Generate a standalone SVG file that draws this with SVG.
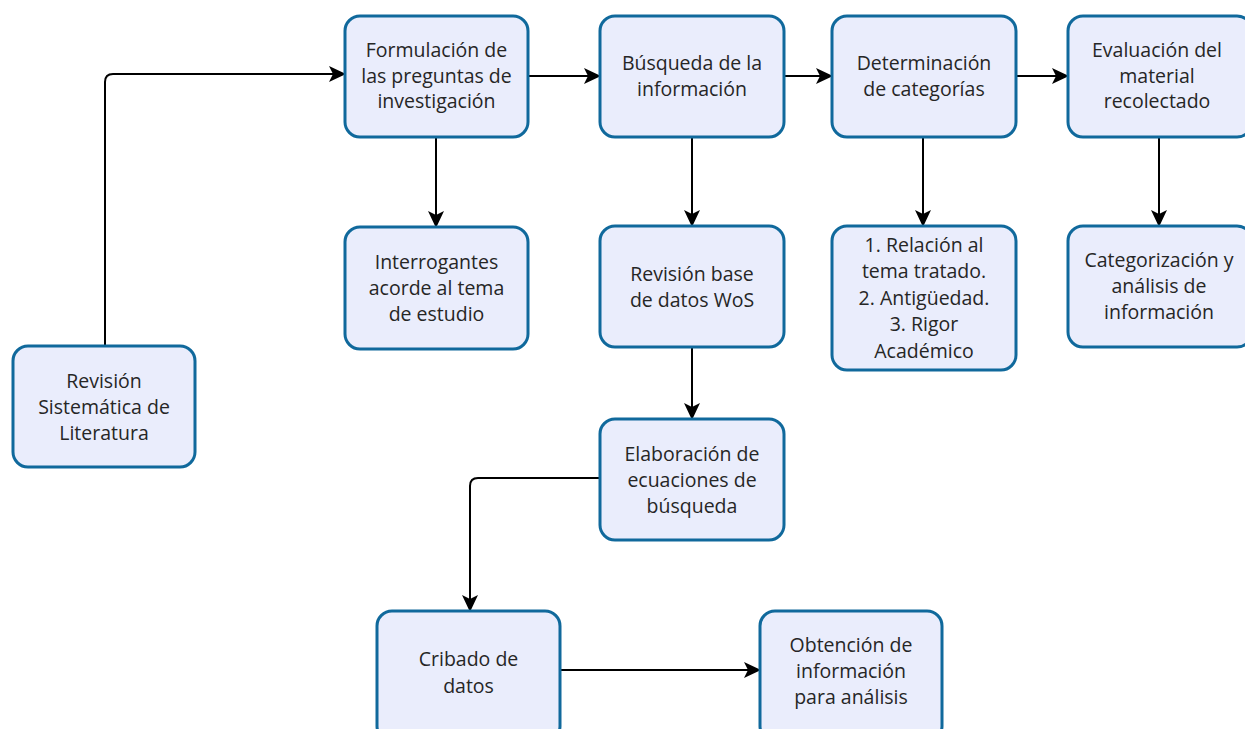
<svg xmlns="http://www.w3.org/2000/svg" width="1245" height="729" viewBox="0 0 1245 729">
<style>
.box{fill:#eaedfc;stroke:#10699c;stroke-width:3}
.t{font-family:"Open Sans","Noto Sans",sans-serif;font-size:19.5px;fill:#262626;text-anchor:middle}
.c{fill:none;stroke:#000;stroke-width:2;marker-end:url(#arr)}
</style>
<defs>
<marker id="arr" markerUnits="userSpaceOnUse" markerWidth="18" markerHeight="18" refX="16" refY="9" orient="auto">
<path d="M0,1 L17,9 L0,17 L4,9 Z" fill="#000"/>
</marker>
</defs>
<rect width="1245" height="729" fill="#fff"/>
<g id="connectors">
<path class="c" d="M105,346 L105,82 Q105,74 113,74 L345,74"/>
<path class="c" d="M528,76 L600,76"/>
<path class="c" d="M784,76 L832,76"/>
<path class="c" d="M1016,76 L1068,76"/>
<path class="c" d="M436,137 L436,227"/>
<path class="c" d="M692,137 L692,226"/>
<path class="c" d="M923,137 L923,226"/>
<path class="c" d="M1159,137 L1159,226"/>
<path class="c" d="M692,347 L692,419"/>
<path class="c" d="M600,478 L478,478 Q470,478 470,486 L470,611"/>
<path class="c" d="M560,670 L760,670"/>
</g>
<g id="n1"><rect class="box" x="345" y="16" width="183" height="121" rx="15"/>
<text class="t" x="436.5" y="57">Formulación de</text><text class="t" x="436.5" y="83">las preguntas de</text><text class="t" x="436.5" y="108">investigación</text></g>
<g id="n2"><rect class="box" x="600" y="16" width="184" height="121" rx="15"/>
<text class="t" x="692" y="70">Búsqueda de la</text><text class="t" x="692" y="96">información</text></g>
<g id="n3"><rect class="box" x="832" y="16" width="184" height="121" rx="15"/>
<text class="t" x="924" y="70">Determinación</text><text class="t" x="924" y="96">de categorías</text></g>
<g id="n4"><rect class="box" x="1068" y="16" width="184" height="121" rx="15"/>
<text class="t" x="1157" y="57">Evaluación del</text><text class="t" x="1157" y="83">material</text><text class="t" x="1157" y="108">recolectado</text></g>
<g id="n5"><rect class="box" x="345" y="227" width="183" height="122" rx="15"/>
<text class="t" x="436.5" y="269">Interrogantes</text><text class="t" x="436.5" y="295">acorde al tema</text><text class="t" x="436.5" y="321">de estudio</text></g>
<g id="n6"><rect class="box" x="600" y="226" width="184" height="121" rx="15"/>
<text class="t" x="692" y="281">Revisión base</text><text class="t" x="692" y="307">de datos WoS</text></g>
<g id="n7"><rect class="box" x="832" y="226" width="184" height="144" rx="15"/>
<text class="t" x="924" y="252">1. Relación al</text><text class="t" x="924" y="278">tema tratado.</text><text class="t" x="924" y="305">2. Antigüedad.</text><text class="t" x="924" y="331">3. Rigor</text><text class="t" x="924" y="358">Académico</text></g>
<g id="n8"><rect class="box" x="1068" y="226" width="184" height="121" rx="15"/>
<text class="t" x="1159" y="267">Categorización y</text><text class="t" x="1159" y="293">análisis de</text><text class="t" x="1159" y="319">información</text></g>
<g id="n9"><rect class="box" x="13" y="346" width="182" height="121" rx="15"/>
<text class="t" x="104" y="388">Revisión</text><text class="t" x="104" y="414">Sistemática de</text><text class="t" x="104" y="440">Literatura</text></g>
<g id="n10"><rect class="box" x="600" y="419" width="184" height="121" rx="15"/>
<text class="t" x="692" y="461">Elaboración de</text><text class="t" x="692" y="487">ecuaciones de</text><text class="t" x="692" y="513">búsqueda</text></g>
<g id="n11"><rect class="box" x="377" y="611" width="183" height="130" rx="15"/>
<text class="t" x="468.5" y="666">Cribado de</text><text class="t" x="468.5" y="693">datos</text></g>
<g id="n12"><rect class="box" x="760" y="611" width="182" height="130" rx="15"/>
<text class="t" x="851" y="652">Obtención de</text><text class="t" x="851" y="678">información</text><text class="t" x="851" y="704">para análisis</text></g>
</svg>
